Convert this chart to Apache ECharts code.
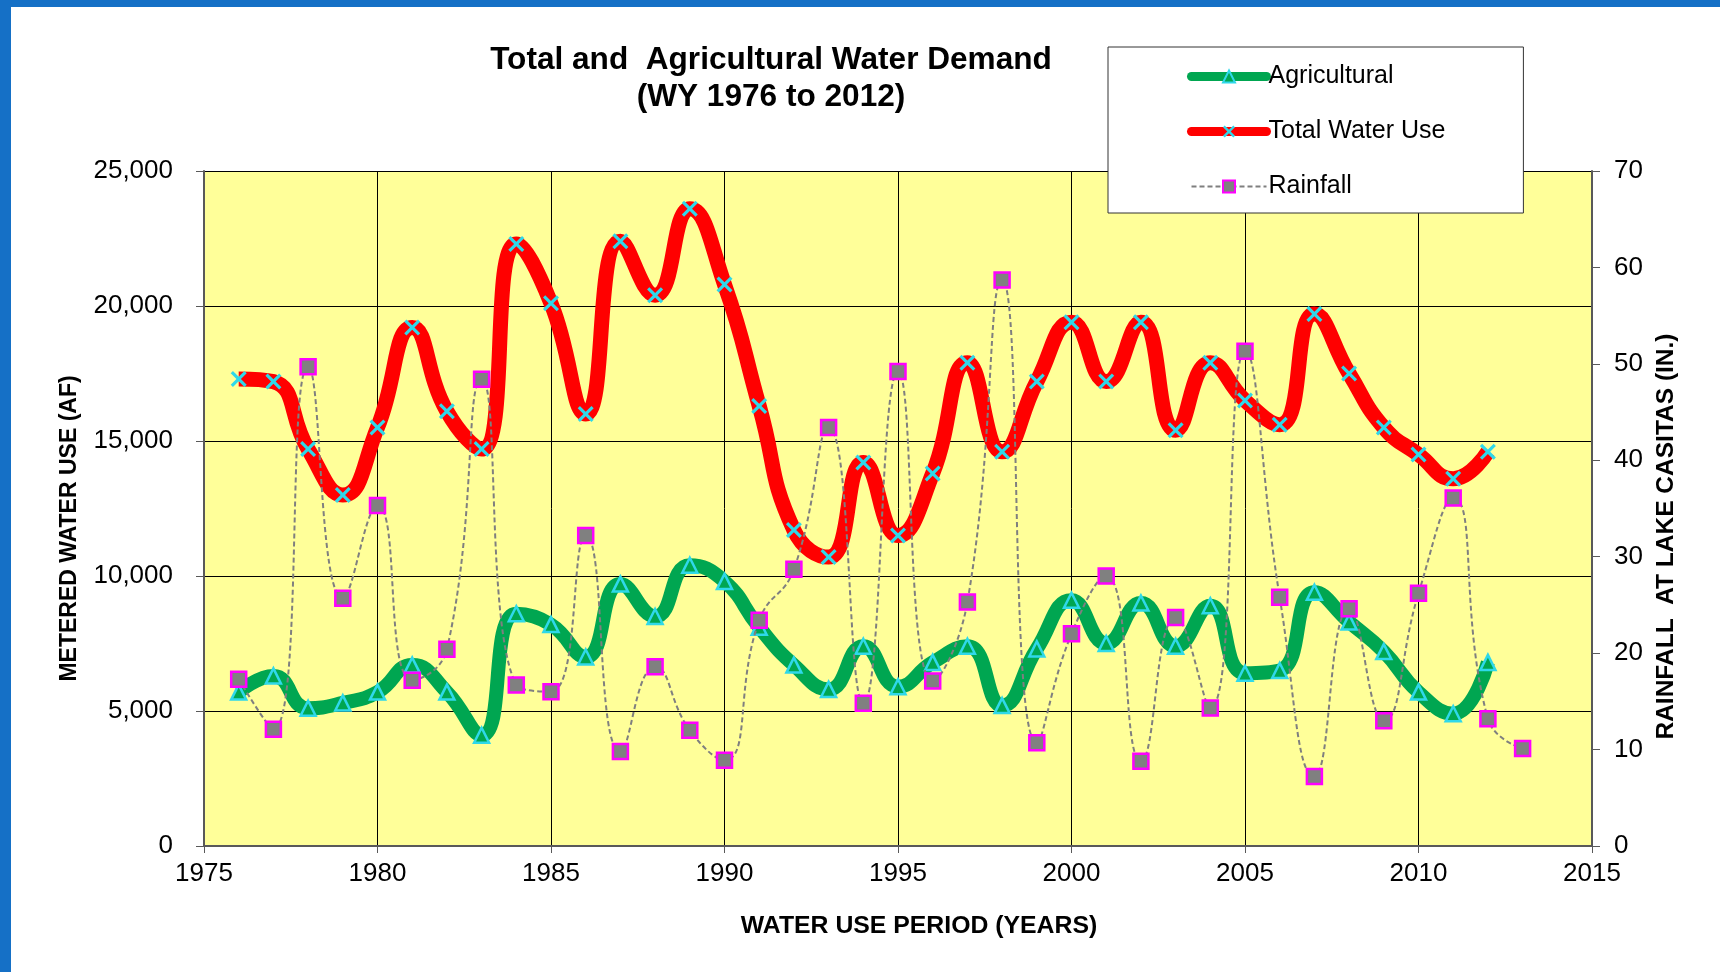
<!DOCTYPE html>
<html>
<head>
<meta charset="utf-8">
<script src="https://cdn.jsdelivr.net/npm/echarts@6/dist/echarts.min.js"></script>
<style>
  html, body { margin: 0; padding: 0; background: #fff; }
  .demo { width: 1720px; height: 972px; }
</style>
</head>
<body>
<div class="demo"></div>
<script>
// water years
const years = [1976,1977,1978,1979,1980,1981,1982,1983,1984,1985,1986,1987,1988,1989,1990,1991,1992,1993,1994,1995,1996,1997,1998,1999,2000,2001,2002,2003,2004,2005,2006,2007,2008,2009,2010,2011,2012,2013]
// metered use, AF
const agricultural = [5700,6300,5100,5300,5700,6700,5700,4100,8600,8200,7000,9700,8500,10400,9800,8100,6700,5800,7400,5900,6800,7400,5200,7300,9100,7500,9000,7400,8900,6400,6500,9400,8300,7200,5700,4900,6800]
const totalUse = [17300,17200,14700,13000,15500,19200,16100,14700,22300,20100,16000,22400,20400,23600,20800,16300,11700,10700,14200,11500,13800,17900,14600,17200,19400,17200,19400,15400,17900,16500,15600,19700,17500,15500,14500,13600,14600]
// rainfall at lake casitas, inches
const rainfall = [17.3,12.1,49.7,25.7,35.3,17.2,20.4,48.4,16.7,16.0,32.2,9.8,18.6,12.0,8.9,23.4,28.7,43.4,14.8,49.2,17.1,25.3,58.7,10.7,22.0,28.0,8.8,23.7,14.3,51.3,25.8,7.2,24.6,13.0,26.2,36.1,13.2,10.1]

const pairs = (arr) => arr.map((v, i) => [years[i], v])

const font = 'Liberation Sans'
const cyan = '#2fd8ea'
const xMark = 'path://M0,1.4 L1.4,0 L5,3.6 L8.6,0 L10,1.4 L6.4,5 L10,8.6 L8.6,10 L5,6.4 L1.4,10 L0,8.6 L3.6,5 Z'

const chartinstance = echarts.init(document.querySelector('.demo'))
const option = {
  backgroundColor: '#ffffff',
  animation: false,
  graphic: [
    { type: 'rect', shape: { x: 0, y: 0, width: 11, height: 972 }, style: { fill: '#1570c6' } },
    { type: 'rect', shape: { x: 0, y: 0, width: 1720, height: 7 }, style: { fill: '#1570c6' } }
  ],
  title: {
    text: 'Total and  Agricultural Water Demand\n(WY 1976 to 2012)',
    left: 766,
    top: 37,
    textAlign: 'center',
    textStyle: { fontFamily: font, fontSize: 31.6, fontWeight: 'bold', color: '#000', lineHeight: 37 }
  },
  legend: {
    orient: 'vertical',
    left: 1108,
    top: 47,
    padding: [17, 78, 14, 79],
    itemGap: 30,
    itemWidth: 75,
    itemHeight: 15,
    backgroundColor: '#fff',
    borderColor: '#333',
    borderWidth: 1,
    textStyle: { fontFamily: font, fontSize: 25, color: '#000', padding: [0, 0, 0, -3] },
    data: [
      { name: 'Agricultural', lineStyle: { width: 9, cap: 'round' } },
      { name: 'Total Water Use', lineStyle: { width: 9, cap: 'round' } },
      { name: 'Rainfall', lineStyle: { width: 2 } }
    ]
  },
  grid: {
    left: 204,
    right: 128,
    top: 171,
    bottom: 126,
    show: true,
    backgroundColor: '#ffff99',
    borderWidth: 0
  },
  xAxis: {
    type: 'value',
    min: 1975,
    max: 2015,
    interval: 5,
    name: 'WATER USE PERIOD (YEARS)',
    nameLocation: 'middle',
    nameGap: 68,
    nameTextStyle: { fontFamily: font, fontSize: 24.8, fontWeight: 'bold', color: '#000', padding: [0, 0, 0, 42] },
    axisLine: { show: true, lineStyle: { color: '#595959', width: 2 } },
    axisTick: { show: true, length: 7, lineStyle: { color: '#595959' } },
    axisLabel: { fontFamily: font, fontSize: 26, color: '#000', margin: 15, formatter: (v) => String(v) },
    splitLine: { show: true, lineStyle: { color: '#000', width: 1 } }
  },
  yAxis: [
    {
      type: 'value',
      min: 0,
      max: 25000,
      interval: 5000,
      name: 'METERED WATER USE (AF)',
      nameLocation: 'middle',
      nameGap: 123,
      nameTextStyle: { fontFamily: font, fontSize: 23, fontWeight: 'bold', color: '#000', padding: [0, 40, 0, 0] },
      axisLine: { show: true, lineStyle: { color: '#595959', width: 2 } },
      axisTick: { show: true, length: 8, lineStyle: { color: '#595959' } },
      axisLabel: { fontFamily: font, fontSize: 26, color: '#000', margin: 31, formatter: (v) => v.toLocaleString('en-US') },
      splitLine: { show: true, lineStyle: { color: '#000', width: 1 } }
    },
    {
      type: 'value',
      min: 0,
      max: 70,
      interval: 10,
      position: 'right',
      name: 'RAINFALL  AT LAKE CASITAS (IN.)',
      nameLocation: 'middle',
      nameGap: 60,
      nameTextStyle: { fontFamily: font, fontSize: 24.5, fontWeight: 'bold', color: '#000', padding: [0, 56, 0, 0] },
      axisLine: { show: true, lineStyle: { color: '#595959', width: 2 } },
      axisTick: { show: true, length: 8, lineStyle: { color: '#595959' } },
      axisLabel: { fontFamily: font, fontSize: 26, color: '#000', margin: 22 },
      splitLine: { show: false }
    }
  ],
  series: [
    {
      name: 'Agricultural',
      type: 'line',
      smooth: true,
      data: pairs(agricultural),
      symbol: 'triangle',
      symbolSize: 15,
      lineStyle: { color: '#00a651', width: 14 },
      itemStyle: { color: '#00a651', borderColor: cyan, borderWidth: 2.5 },
      z: 2
    },
    {
      name: 'Total Water Use',
      type: 'line',
      smooth: true,
      data: pairs(totalUse),
      symbol: xMark,
      symbolSize: 16,
      lineStyle: { color: '#ff0000', width: 15 },
      itemStyle: { color: cyan },
      z: 3
    },
    {
      name: 'Rainfall',
      type: 'line',
      yAxisIndex: 1,
      smooth: true,
      data: pairs(rainfall),
      symbol: 'rect',
      symbolSize: 15,
      lineStyle: { color: '#7f7f7f', width: 2, type: [5, 3] },
      itemStyle: { color: '#808080', borderColor: '#ff00ff', borderWidth: 2.5 },
      z: 4
    }
  ]
}
option && chartinstance.setOption(option)
window.addEventListener('resize', () => {
  chartinstance.resize()
})
</script>
</body>
</html>
